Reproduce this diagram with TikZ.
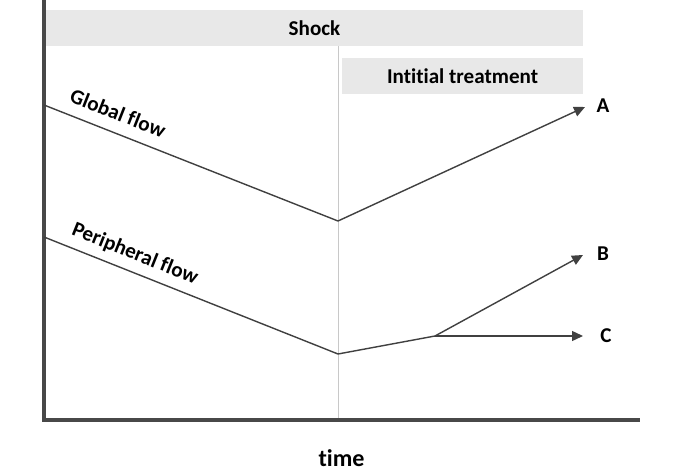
\documentclass[tikz,border=0pt]{standalone}
\usepackage{fontspec}
\setmainfont{Carlito}[Ligatures=NoCommon]
\usetikzlibrary{arrows.meta,positioning,calc}
\definecolor{linegray}{RGB}{64,64,64}
\definecolor{axisgray}{RGB}{72,72,72}
\definecolor{bandgray}{RGB}{232,232,232}
\definecolor{guidegray}{RGB}{200,200,200}

\begin{document}
\begin{tikzpicture}[
    band/.style={fill=bandgray,draw=none,minimum height=0.72cm,
      inner sep=0pt,font=\bfseries\fontsize{12}{14}\selectfont},
    lbl/.style={font=\bfseries\fontsize{12}{14}\selectfont,inner sep=1pt},
    flow/.style={draw=linegray,line width=0.8pt},
    arr/.style={flow,-{Triangle[length=0.22cm,width=0.2cm]}},
    axis/.style={draw=axisgray,line width=1.8pt}
  ]
    \useasboundingbox (0,0) rectangle (13.7,9.46);

    % axes and shock line
    \coordinate (top) at (0.88,9.46);
    \coordinate (orig) at (0.88,1.06);
    \coordinate (xend) at (12.8,1.06);
    \coordinate (sbot) at (6.76,1.06);
    \node[band,minimum width=10.74cm] (shock) at (6.29,8.9) {Shock};
    \draw[guidegray,line width=0.5pt] (shock.south -| sbot) -- (sbot);
    \node[band,minimum width=4.82cm] (treat) at (9.25,7.94) {Intitial treatment};
    \draw[axis] (top) -- (orig) -- (xend);
    \node[lbl,font=\bfseries\fontsize{13.7}{16}\selectfont] (time) at (6.83,0.3) {time};

    % global flow
    \coordinate (gstart) at (0.88,7.36);
    \coordinate (gmin) at (6.76,5.04);
    \coordinate (gtip) at (11.7,7.32);
    \node[lbl] (a) at (12.06,7.34) {A};
    \draw[flow] (gstart) -- (gmin);
    \draw[arr] (gmin) -- (gtip);
    \node[lbl,rotate=-21.5] (glab) at (2.36,7.2) {Global flow};

    % peripheral flow
    \coordinate (pstart) at (0.88,4.72);
    \coordinate (pmin) at (6.76,2.38);
    \coordinate (pknee) at (8.7,2.74);
    \coordinate (btip) at (11.66,4.36);
    \coordinate (ctip) at (11.66,2.74);
    \node[lbl] (b) at (12.06,4.38) {B};
    \node[lbl] (c) at (12.12,2.74) {C};
    \draw[flow] (pstart) -- (pmin) -- (pknee);
    \draw[arr] (pknee) -- (btip);
    \draw[arr] (pknee) -- (ctip);
    \node[lbl,rotate=-21.9] (plab) at (2.7,4.38) {Peripheral flow};
  \end{tikzpicture}
\end{document}
